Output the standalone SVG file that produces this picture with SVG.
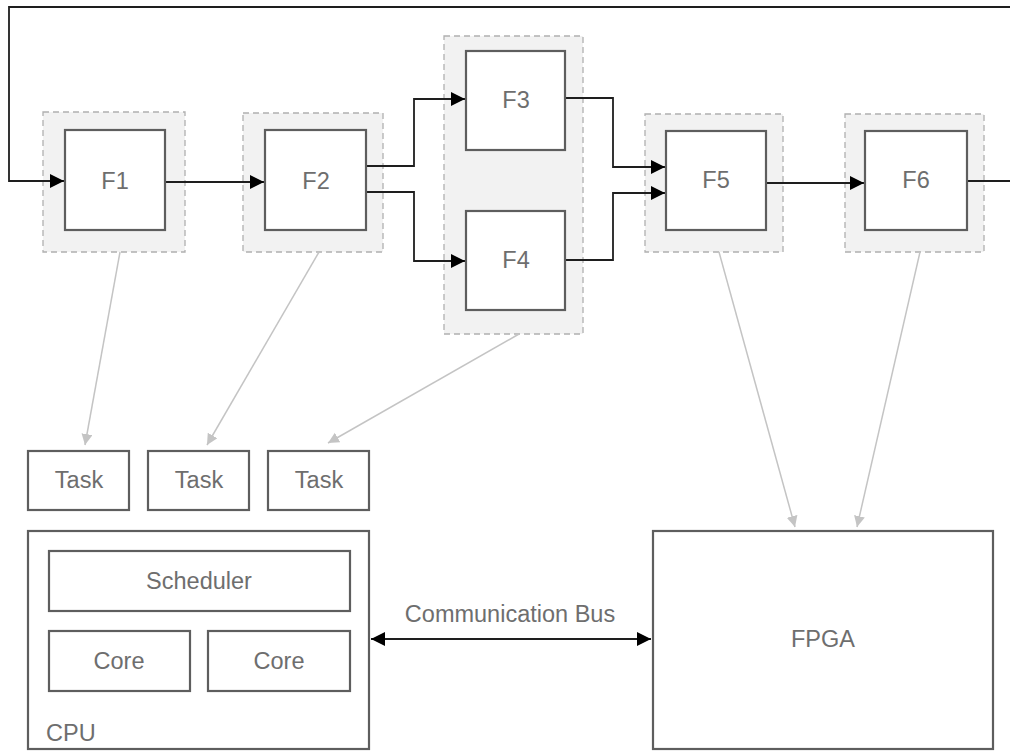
<svg xmlns="http://www.w3.org/2000/svg" width="1010" height="753" viewBox="0 0 1010 753">
<defs>
<style>
.grp{fill:#f2f2f2;stroke:#b0b0b0;stroke-width:1.3;stroke-dasharray:6 4}
.box{fill:#fff;stroke:#5e5e5e;stroke-width:2.2}
.lbl{font-family:"Liberation Sans",Arial,sans-serif;font-size:23.5px;fill:#6e6e6e;text-anchor:middle;dominant-baseline:central}
.flow{fill:none;stroke:#1e1e1e;stroke-width:1.8}
.map{fill:none;stroke:#c4c4c4;stroke-width:1.5}
</style>
<marker id="ah" markerUnits="userSpaceOnUse" markerWidth="15" markerHeight="15" refX="14" refY="7" orient="auto-start-reverse"><path d="M0,0 L14,7 L0,14 z" fill="#000"/></marker>
<marker id="gh" markerUnits="userSpaceOnUse" markerWidth="12" markerHeight="12" refX="11" refY="5.5" orient="auto"><path d="M0,0 L11,5.5 L0,11 z" fill="#c4c4c4"/></marker>
</defs>
<rect width="1010" height="753" fill="#fff"/>

<g id="group-F1"><rect class="grp" x="43" y="112" width="142" height="140"/></g>
<g id="group-F2"><rect class="grp" x="243" y="113" width="140" height="139"/></g>
<g id="group-F3F4"><rect class="grp" x="444" y="36" width="139" height="298"/></g>
<g id="group-F5"><rect class="grp" x="645" y="114" width="138" height="138"/></g>
<g id="group-F6"><rect class="grp" x="845" y="114" width="139" height="138"/></g>

<g id="connectors">
<path class="flow" d="M967,181 H1030 V7 H9 V181 H64" marker-end="url(#ah)"/>
<path class="flow" d="M165,182 H264" marker-end="url(#ah)"/>
<path class="flow" d="M366,166 H414 V99 H465" marker-end="url(#ah)"/>
<path class="flow" d="M366,192 H414 V261 H465" marker-end="url(#ah)"/>
<path class="flow" d="M565,98 H613 V167 H665" marker-end="url(#ah)"/>
<path class="flow" d="M565,260 H613 V193 H665" marker-end="url(#ah)"/>
<path class="flow" d="M766,183 H864" marker-end="url(#ah)"/>
<path class="flow" d="M371,639 H651" marker-start="url(#ah)" marker-end="url(#ah)"/>
<path class="map" d="M120,252 L85,445" marker-end="url(#gh)"/>
<path class="map" d="M319,252 L207,445" marker-end="url(#gh)"/>
<path class="map" d="M519,334 L328,443" marker-end="url(#gh)"/>
<path class="map" d="M719,252 L795,527" marker-end="url(#gh)"/>
<path class="map" d="M920,252 L857,527" marker-end="url(#gh)"/>
</g>

<g id="F1"><rect class="box" x="65" y="130" width="100" height="100"/><text class="lbl" x="115" y="181">F1</text></g>
<g id="F2"><rect class="box" x="265" y="130" width="101" height="100"/><text class="lbl" x="316" y="181">F2</text></g>
<g id="F3"><rect class="box" x="466" y="51" width="99" height="99"/><text class="lbl" x="516" y="100">F3</text></g>
<g id="F4"><rect class="box" x="466" y="211" width="99" height="99"/><text class="lbl" x="516" y="260">F4</text></g>
<g id="F5"><rect class="box" x="666" y="131" width="100" height="99"/><text class="lbl" x="716" y="180">F5</text></g>
<g id="F6"><rect class="box" x="865" y="131" width="102" height="99"/><text class="lbl" x="916" y="180">F6</text></g>

<g id="task1"><rect class="box" x="28" y="451" width="101" height="59"/><text class="lbl" x="79" y="480">Task</text></g>
<g id="task2"><rect class="box" x="148" y="451" width="101" height="59"/><text class="lbl" x="199" y="480">Task</text></g>
<g id="task3"><rect class="box" x="268" y="451" width="101" height="59"/><text class="lbl" x="319" y="480">Task</text></g>

<g id="CPU">
<rect class="box" x="28" y="531" width="341" height="218"/>
<text class="lbl" x="46" y="733" style="text-anchor:start">CPU</text>
</g>
<g id="scheduler"><rect class="box" x="49" y="551" width="301" height="60"/><text class="lbl" x="199" y="581">Scheduler</text></g>
<g id="core1"><rect class="box" x="49" y="631" width="141" height="60"/><text class="lbl" x="119" y="661">Core</text></g>
<g id="core2"><rect class="box" x="208" y="631" width="142" height="60"/><text class="lbl" x="279" y="661">Core</text></g>

<g id="FPGA"><rect class="box" x="653" y="531" width="340" height="218"/><text class="lbl" x="823" y="639">FPGA</text></g>

<g id="bus-label"><text class="lbl" x="510" y="614">Communication Bus</text></g>
</svg>
